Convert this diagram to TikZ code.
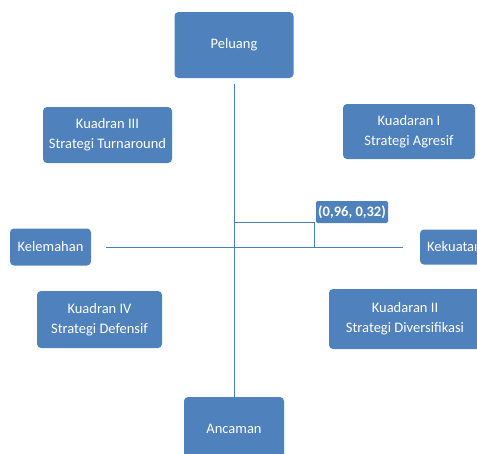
\documentclass[tikz,border=0pt]{standalone}
\usepackage{fontspec}
\setmainfont{Carlito}
\usetikzlibrary{calc}

\definecolor{birukotak}{RGB}{79,129,189}
\definecolor{birugaris}{RGB}{74,126,187}

\begin{document}
\begin{tikzpicture}[x=1pt, y=-1pt,
        kotak/.style = {fill=birukotak, text=white, rounded corners=4pt, align=center, inner sep=0pt,
                        font=\fontsize{14.5}{20}\selectfont},
        nilai/.style = {kotak, rounded corners=2pt, font=\fontsize{14.5}{20}\selectfont\bfseries},
        garis/.style = {draw=birugaris, line width=1pt}]
        \clip (0,0) rectangle (477,453);

        \node[kotak, minimum width=119pt, minimum height=66pt] (peluang) at (234,45) {Peluang};
        \node[kotak, minimum width=100pt, minimum height=64pt] (ancaman) at (234,429) {Ancaman};
        \node[kotak, minimum width=81pt, minimum height=37pt] (kelemahan) at (50.5,247) {Kelemahan};
        \node[kotak, minimum width=69pt, minimum height=35pt] (kekuatan) at (454.5,247) {Kekuatan};

        \node[kotak, minimum width=129pt, minimum height=56pt] (kuadran3) at (107.5,135) {Kuadran III\\Strategi Turnaround};
        \node[kotak, minimum width=132pt, minimum height=55pt] (kuadran1) at (409,131.5) {Kuadaran I\\Strategi Agresif};
        \node[kotak, minimum width=125pt, minimum height=57pt] (kuadran4) at (99.5,319.5) {Kuadran IV\\Strategi Defensif};
        \node[kotak, minimum width=152pt, minimum height=60pt] (kuadran2) at (405,319) {Kuadaran II\\Strategi Diversifikasi};

        \node[nilai, minimum width=72pt, minimum height=22pt] (posisi) at (352,212) {(0,96, 0,32)};

        \draw[garis, shorten <=6pt] (peluang) -- (ancaman);
        \draw[garis, shorten <=15pt, shorten >=17pt] (kelemahan) -- (kekuatan);

        \coordinate (pusat) at (234,247);
        \coordinate (titik) at (314,222);
        \draw[garis] (pusat) rectangle (titik);
\end{tikzpicture}
\end{document}
